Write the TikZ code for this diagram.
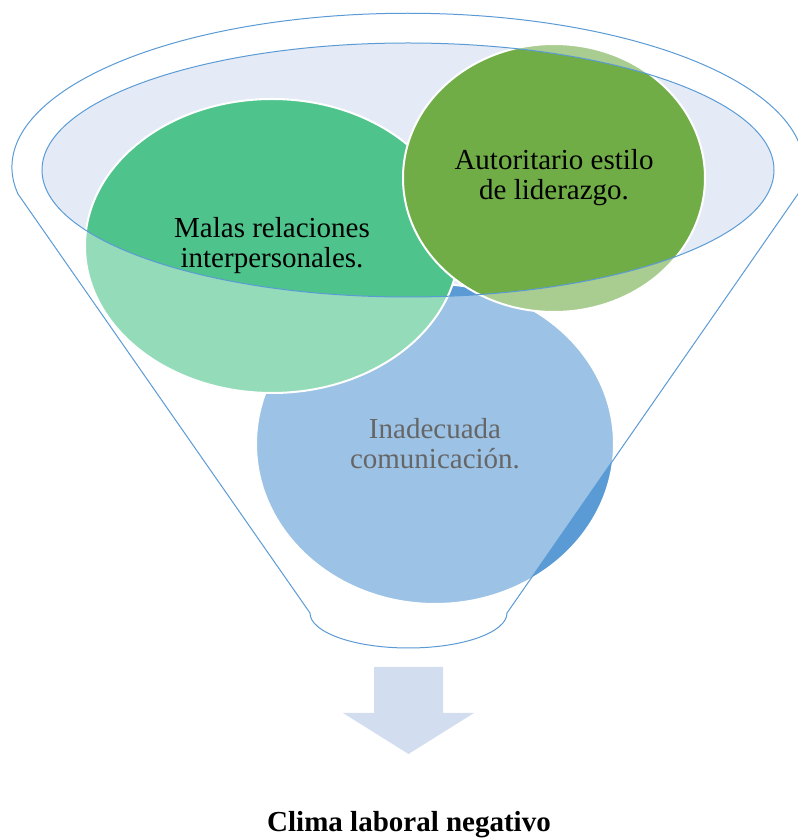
\documentclass[tikz,border=0pt]{standalone}
\usepackage{fontspec}
\setmainfont{Liberation Serif}
\usetikzlibrary{shapes.geometric}
\definecolor{funline}{HTML}{5B9BD5}
\definecolor{funfill}{HTML}{E4EBF6}
\definecolor{bluecirc}{HTML}{5B9BD5}
\definecolor{greencirc}{HTML}{4EC48C}
\definecolor{olivecirc}{HTML}{70AD47}
\definecolor{arrowfill}{HTML}{D2DEEF}
\tikzset{
  bubble/.style={ellipse,draw=white,line width=2pt,inner sep=0pt,align=center,
    font=\fontsize{29}{30}\selectfont},
  funnelline/.style={draw=funline,line width=1pt}
}
\begin{document}
\begin{tikzpicture}[x=1pt,y=1pt]
\useasboundingbox (0,0) rectangle (798,839);
\fill[funfill] (408,669) ellipse [x radius=366,y radius=127];

\node[bubble,fill=bluecirc,minimum width=358pt,minimum height=320pt] (inad) at (435,395) {Inadecuada\\comunicación.};
\node[bubble,fill=greencirc,minimum width=374pt,minimum height=294pt] (malas) at (272,593) {Malas relaciones\\interpersonales.};
\node[bubble,fill=olivecirc,minimum width=302pt,minimum height=268pt] (auto) at (554,661) {Autoritario estilo\\de liderazgo.};

\fill[white,opacity=0.4,even odd rule] (18,645) arc[start angle=190,end angle=-10,x radius=396,y radius=154]
  -- (507,226) arc[start angle=0,end angle=-180,x radius=98.5,y radius=35] -- cycle
  (408,669) ellipse [x radius=366,y radius=127];
\draw[funnelline] (18,645) arc[start angle=190,end angle=-10,x radius=396,y radius=154]
  -- (507,226) arc[start angle=0,end angle=-180,x radius=98.5,y radius=35] -- cycle;
\draw[funnelline] (408,669) ellipse [x radius=366,y radius=127];

\fill[arrowfill] (374,172) -- (443,172) -- (443,126) -- (474,126) -- (408.5,85) -- (343,126) -- (374,126) -- cycle;
\node[font=\bfseries\fontsize{29}{30}\selectfont,anchor=base] (clima) at (409,7) {Clima laboral negativo};
\end{tikzpicture}
\end{document}
